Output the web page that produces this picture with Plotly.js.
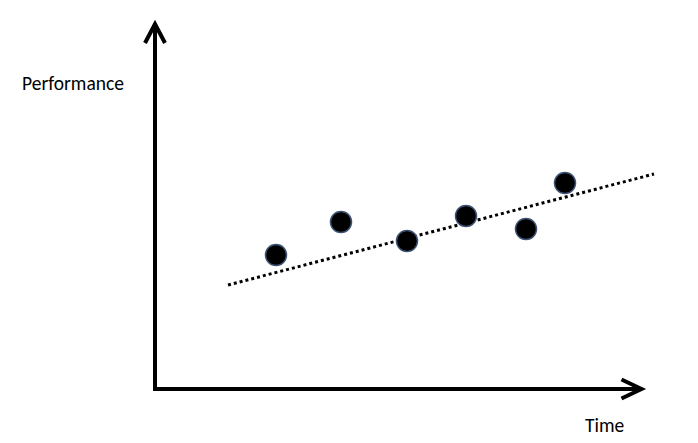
<!DOCTYPE html>
<html>
<head>
<meta charset="utf-8">
<script src="https://cdn.plot.ly/plotly-3.0.1.min.js"></script>
<style>html,body{margin:0;padding:0;background:#fff;}#chart{width:698px;height:443px;}</style>
</head>
<body>
<div id="chart"></div>
<script>
// Data (arbitrary units: Time on x, Performance on y)
const timeValues = [2.42, 3.72, 5.04, 6.22, 7.42, 8.20];
const performanceValues = [2.68, 3.34, 2.96, 3.46, 3.20, 4.12];
const trendTime = [1.46, 9.98];
const trendPerformance = [2.08, 4.30];
const xAxisLabel = "Time";
const yAxisLabel = "Performance";

const xTip = 9.73, yTip = 7.30;

const traces = [
  {
    x: trendTime, y: trendPerformance, type: 'scatter', mode: 'lines',
    line: {color: '#000000', width: 3, dash: 'dot'}, hoverinfo: 'skip'
  },
  {
    x: timeValues, y: performanceValues, type: 'scatter', mode: 'markers',
    marker: {size: 21, color: '#000000', line: {color: '#3d5274', width: 1.5}}
  }
];

const layout = {
  width: 698, height: 443,
  margin: {l: 0, r: 0, t: 0, b: 0},
  paper_bgcolor: '#ffffff', plot_bgcolor: '#ffffff',
  showlegend: false,
  xaxis: {range: [-3.1, 10.86], visible: false, fixedrange: true},
  yaxis: {range: [-1.08, 7.78], visible: false, fixedrange: true},
  shapes: [
    {type: 'line', xref: 'x', yref: 'y', x0: -0.04, y0: 0, x1: xTip - 0.03, y1: 0, line: {color: '#000', width: 4}},
    {type: 'line', xref: 'x', yref: 'y', x0: 0, y0: -0.04, x1: 0, y1: yTip - 0.03, line: {color: '#000', width: 4}},
    {type: 'path', xref: 'x', yref: 'y', path: `M ${xTip-0.40},0.19 L ${xTip},0 L ${xTip-0.40},-0.19`, line: {color: '#000', width: 4}},
    {type: 'path', xref: 'x', yref: 'y', path: `M -0.2,${yTip-0.38} L 0,${yTip} L 0.2,${yTip-0.38}`, line: {color: '#000', width: 4}}
  ],
  annotations: [
    {text: yAxisLabel, xref: 'paper', yref: 'paper', x: 73/698, y: 1 - 83/443, showarrow: false,
     xanchor: 'center', yanchor: 'middle', font: {family: 'Calibri, Carlito, "Liberation Sans", Arial, sans-serif', size: 19.5, color: '#000'}},
    {text: xAxisLabel, xref: 'paper', yref: 'paper', x: 604.5/698, y: 1 - 425/443, showarrow: false,
     xanchor: 'center', yanchor: 'middle', font: {family: 'Calibri, Carlito, "Liberation Sans", Arial, sans-serif', size: 19.5, color: '#000'}}
  ]
};

Plotly.newPlot('chart', traces, layout, {displayModeBar: false, staticPlot: true});
</script>
</body>
</html>
